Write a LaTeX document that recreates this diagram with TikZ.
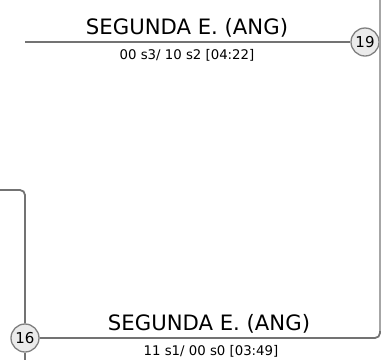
\documentclass[tikz,border=0pt]{standalone}
\usepackage{fontspec}
\setmainfont{DejaVu Sans}
\begin{document}
\begin{tikzpicture}[x=1pt,y=-1pt,
  seed/.style={circle,draw=black!50,line width=1.3pt,fill=black!8,minimum size=28pt,inner sep=0pt,font=\fontsize{15}{15}\selectfont},
  conn/.style={draw=black!55,line width=1.8pt},
  side/.style={draw=black!35,line width=1.3pt},
  title/.style={font=\fontsize{21.2}{23}\selectfont,inner sep=0pt},
  score/.style={font=\fontsize{13.3}{15}\selectfont,inner sep=0pt}]
\useasboundingbox (0,0) rectangle (382,360);
\node[seed] (n19) at (365,42) {19};
\node[seed] (n16) at (25,338) {16};
\coordinate (topstart) at (25,42);
\coordinate (leftin) at (0,190);
\coordinate (bottomout) at (25,360);
\coordinate (corner) at (380,338);
\coordinate (righttop) at (380,0);
\draw[conn] (topstart) -- (n19.west);
\draw[conn,rounded corners=5pt] (leftin) -| (n16.north);
\draw[conn] (n16.south) -- (bottomout);
\draw[conn,rounded corners=5pt] (n16.east) -- (corner) -- (380,330);
\draw[side] (380,331) -- (righttop);
\node[title] (t1) at (187,28) {SEGUNDA E. (ANG)};
\node[score] (s1) at (187,55) {00 s3/ 10 s2 [04:22]};
\node[title] (t2) at (209,324) {SEGUNDA E. (ANG)};
\node[score] (s2) at (211,351) {11 s1/ 00 s0 [03:49]};
\end{tikzpicture}
\end{document}
